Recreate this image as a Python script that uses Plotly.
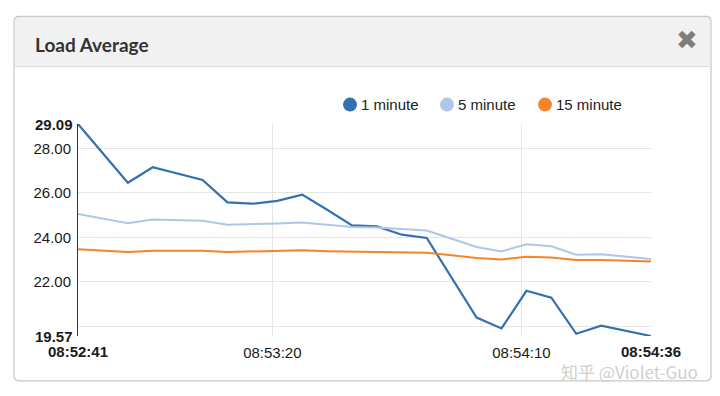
import plotly.graph_objects as go

# ---- data ----
times = [
    "2020-01-01 08:52:41", "2020-01-01 08:52:46", "2020-01-01 08:52:51", "2020-01-01 08:52:56",
    "2020-01-01 08:53:01", "2020-01-01 08:53:06", "2020-01-01 08:53:11", "2020-01-01 08:53:16",
    "2020-01-01 08:53:21", "2020-01-01 08:53:26", "2020-01-01 08:53:31", "2020-01-01 08:53:36",
    "2020-01-01 08:53:41", "2020-01-01 08:53:46", "2020-01-01 08:53:51", "2020-01-01 08:53:56",
    "2020-01-01 08:54:01", "2020-01-01 08:54:06", "2020-01-01 08:54:11", "2020-01-01 08:54:16",
    "2020-01-01 08:54:21", "2020-01-01 08:54:26", "2020-01-01 08:54:31", "2020-01-01 08:54:36",
]
load_1 = [29.09, 27.77, 26.45, 27.15, 26.86, 26.58, 25.57, 25.51, 25.64, 25.92, 25.24, 24.54,
          24.49, 24.12, 23.97, 22.20, 20.40, 19.91, 21.60, 21.29, 19.67, 20.03, 19.81, 19.57]
load_5 = [25.05, 24.84, 24.63, 24.80, 24.77, 24.74, 24.57, 24.59, 24.62, 24.67, 24.57, 24.47,
          24.44, 24.37, 24.31, 23.94, 23.57, 23.37, 23.69, 23.60, 23.22, 23.24, 23.13, 23.03]
load_15 = [23.46, 23.40, 23.34, 23.40, 23.40, 23.40, 23.34, 23.36, 23.37, 23.42, 23.38, 23.36,
           23.34, 23.33, 23.31, 23.20, 23.07, 23.01, 23.13, 23.10, 22.98, 22.98, 22.95, 22.92]
series_names = ["1 minute", "5 minute", "15 minute"]
series_colors = ["#3471b0", "#aec7e8", "#f4862a"]

x_tick_vals = ["2020-01-01 08:53:20", "2020-01-01 08:54:10"]
x_tick_text = ["08:53:20", "08:54:10"]
y_tick_vals = [20, 22, 24, 26, 28]
y_tick_text = ["", "22.00", "24.00", "26.00", "28.00"]

# ---- geometry (pixels, in window coordinates) ----
WIN_W, WIN_H = 720, 396
OFF = 8  # page body margin
FW, FH = WIN_W - OFF, WIN_H - 2 * OFF
L, R, T, B = 78, 651, 124.4, 336.2
PW, PH = R - L, B - T
CARD_R = 711


def px(xp):
    return (xp - L) / PW


def py(yp):
    return (B - yp) / PH


def rounded_rect(x0, y0, x1, y1, r, top_only=False):
    rx, ry = r / PW, r / PH
    X0, X1, Y0, Y1 = px(x0), px(x1), py(y0), py(y1)
    rb = 0 if top_only else 1
    return (f"M {X0+rx},{Y0} L {X1-rx},{Y0} Q {X1},{Y0} {X1},{Y0-ry} "
            f"L {X1},{Y1+ry*rb} Q {X1},{Y1} {X1-rx*rb},{Y1} "
            f"L {X0+rx*rb},{Y1} Q {X0},{Y1} {X0},{Y1+ry*rb} "
            f"L {X0},{Y0-ry} Q {X0},{Y0} {X0+rx},{Y0} Z")


fig = go.Figure()
for name, vals, col, w in zip(series_names, [load_1, load_5, load_15], series_colors, [2.2, 2, 2]):
    fig.add_trace(go.Scatter(x=times, y=vals, mode="lines", name=name,
                             line=dict(color=col, width=w), showlegend=False,
                             hoverinfo="skip"))

all_vals = load_1 + load_5 + load_15
ymin, ymax = min(all_vals), max(all_vals)

tick_font = dict(family="Liberation Sans, Arial, sans-serif", size=15, color="#1a1a1a")

shapes = [
    dict(type="path", xref="paper", yref="paper", path=rounded_rect(14, 17, CARD_R, 381, 5),
         fillcolor="#ffffff", line=dict(color="#c8c8c8", width=1.3), layer="below"),
    dict(type="path", xref="paper", yref="paper", path=rounded_rect(14.7, 17.7, CARD_R - 0.7, 67, 5, top_only=True),
         fillcolor="#f1f1f1", line=dict(width=0), layer="below"),
    dict(type="line", xref="paper", yref="paper", x0=px(14), x1=px(CARD_R), y0=py(67), y1=py(67),
         line=dict(color="#dcdcdc", width=1), layer="below"),
]

annotations = [
    dict(text="Load Average", xref="paper", yref="paper", x=px(33), y=py(45),
         xanchor="left", yanchor="middle", showarrow=False,
         font=dict(family="Lato, sans-serif", size=19, color="#333333", weight="bold")),
    dict(text="✖", xref="paper", yref="paper", x=px(687), y=py(40.5),
         xanchor="center", yanchor="middle", showarrow=False,
         font=dict(family="DejaVu Sans, sans-serif", size=26, color="#7d7d7d")),
    dict(text=f"<b>{ymax:.2f}</b>", xref="paper", yref="y", x=0, y=ymax, xanchor="right",
         yanchor="middle", xshift=-3, showarrow=False, font=tick_font),
    dict(text=f"<b>{ymin:.2f}</b>", xref="paper", yref="y", x=0, y=ymin, xanchor="right",
         yanchor="middle", xshift=-3, showarrow=False, font=tick_font),
    dict(text=f"<b>{times[0][11:]}</b>", xref="x", yref="paper", x=times[0], y=0,
         xanchor="center", yanchor="middle", yshift=-15, showarrow=False, font=tick_font),
    dict(text=f"<b>{times[-1][11:]}</b>", xref="x", yref="paper", x=times[-1], y=0,
         xanchor="center", yanchor="middle", yshift=-15, showarrow=False, font=tick_font),
    dict(text="知乎 @Violet-Guo", xref="paper", yref="paper", x=px(700), y=py(372),
         xanchor="right", yanchor="middle", showarrow=False,
         font=dict(family="Noto Sans CJK SC, sans-serif", size=17, color="#d0d0d0")),
]

legend_x = [350, 447, 545]
for name, col, cx in zip(series_names, series_colors, legend_x):
    shapes.append(dict(type="circle", xref="paper", yref="paper",
                       x0=px(cx - 7), x1=px(cx + 7), y0=py(105 + 7), y1=py(105 - 7),
                       fillcolor=col, line=dict(width=0)))
    annotations.append(dict(text=name, xref="paper", yref="paper", x=px(cx + 9), y=py(105),
                            xanchor="left", yanchor="middle", showarrow=False,
                            font=dict(family="Liberation Sans, Arial, sans-serif", size=15,
                                      color="#222222")))

fig.update_layout(
    width=FW, height=FH,
    margin=dict(l=L - OFF, r=WIN_W - R, t=T - OFF, b=(OFF + FH) - B, pad=0),
    paper_bgcolor="#ffffff", plot_bgcolor="rgba(0,0,0,0)",
    shapes=shapes, annotations=annotations, showlegend=False,
    xaxis=dict(type="date", range=[times[0], times[-1]], tickvals=x_tick_vals,
               ticktext=x_tick_text, showgrid=True, gridcolor="#e6e6e6", gridwidth=1,
               zeroline=False, showline=False, ticks="", tickfont=tick_font, ticklabelstandoff=6),
    yaxis=dict(range=[ymin, ymax], tickvals=y_tick_vals, ticktext=y_tick_text,
               showgrid=True, gridcolor="#e6e6e6", gridwidth=1, zeroline=False,
               showline=True, linecolor="#333333", linewidth=1, ticks="",
               tickfont=tick_font, ticklabelstandoff=3),
)

fig.write_html("out.html")
